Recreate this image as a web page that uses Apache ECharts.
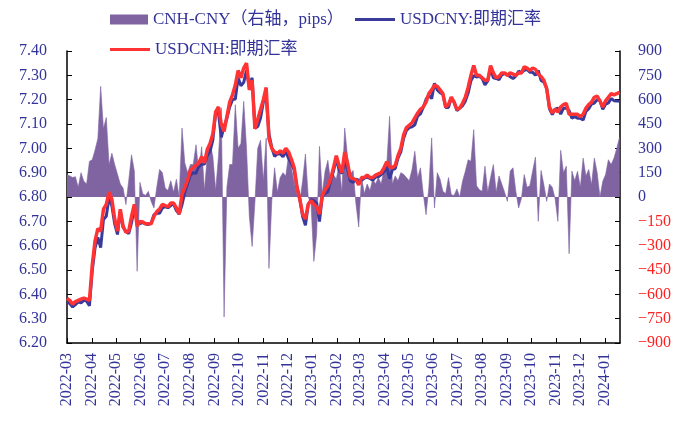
<!DOCTYPE html>
<html>
<head>
<meta charset="utf-8">
<script src="https://cdn.jsdelivr.net/npm/echarts@6/dist/echarts.min.js"></script>
<style>
html,body{margin:0;padding:0;background:#fff;}
#chart{width:691px;height:424px;}
</style>
</head>
<body>
<div id="chart"></div>
<script>
// 数据：每半周一个点，从 2022-03-01 开始
var startDate = '2022-03-01';
var endDate = '2024-01-20';
var stepDays = 3.5;

var nameSpread = 'CNH-CNY（右轴，pips）';
var nameCny = 'USDCNY:即期汇率';
var nameCnh = 'USDCNH:即期汇率';

var usdcnh = [
	6.383,6.375,6.36,6.37,6.375,6.38,6.385,6.38,6.375,6.52,
	6.62,6.67,6.66,6.75,6.77,6.82,6.79,6.71,6.66,6.75,
	6.68,6.655,6.66,6.72,6.77,6.68,6.70,6.697,6.69,6.69,
	6.69,6.72,6.74,6.75,6.77,6.765,6.76,6.775,6.775,6.755,
	6.73,6.81,6.84,6.87,6.91,6.92,6.93,6.94,6.965,6.94,
	6.995,7.02,7.06,7.15,7.17,7.10,7.07,7.13,7.19,7.22,
	7.26,7.32,7.29,7.33,7.35,7.24,7.28,7.08,7.12,7.16,
	7.20,7.25,7.04,7.00,6.985,6.98,6.99,6.98,7.00,6.985,
	6.955,6.92,6.84,6.79,6.73,6.71,6.77,6.785,6.77,6.76,
	6.73,6.805,6.83,6.845,6.875,6.92,6.97,6.93,6.90,6.985,
	6.94,6.88,6.876,6.87,6.85,6.88,6.88,6.89,6.88,6.88,
	6.89,6.895,6.90,6.92,6.945,6.925,6.92,6.93,6.97,7.00,
	7.055,7.085,7.095,7.105,7.125,7.145,7.16,7.17,7.19,7.225,
	7.24,7.26,7.255,7.24,7.225,7.17,7.18,7.21,7.19,7.16,
	7.165,7.185,7.21,7.25,7.30,7.34,7.30,7.30,7.29,7.28,
	7.28,7.34,7.31,7.29,7.295,7.31,7.31,7.30,7.31,7.305,
	7.30,7.31,7.31,7.335,7.33,7.32,7.33,7.325,7.305,7.295,
	7.28,7.245,7.17,7.145,7.16,7.15,7.17,7.18,7.185,7.14,
	7.14,7.14,7.14,7.13,7.14,7.165,7.18,7.19,7.21,7.215,
	7.195,7.17,7.195,7.21,7.225,7.22,7.225,7.23
];

var usdcny = [
	6.369,6.362,6.348,6.358,6.369,6.365,6.375,6.372,6.353,6.497,
	6.591,6.634,6.592,6.708,6.721,6.80,6.763,6.69,6.646,6.742,
	6.675,6.66,6.65,6.694,6.754,6.70,6.691,6.695,6.689,6.687,
	6.693,6.727,6.734,6.733,6.755,6.76,6.756,6.765,6.772,6.744,
	6.73,6.768,6.819,6.855,6.89,6.90,6.898,6.925,6.934,6.936,
	6.97,6.987,7.035,7.146,7.145,7.045,7.09,7.124,7.17,7.20,
	7.203,7.29,7.257,7.271,7.32,7.252,7.29,7.083,7.09,7.125,
	7.19,7.214,7.06,7.003,6.967,6.977,6.978,6.965,6.987,6.959,
	6.937,6.911,6.839,6.793,6.72,6.684,6.77,6.789,6.785,6.775,
	6.699,6.803,6.814,6.822,6.866,6.906,6.959,6.91,6.897,6.943,
	6.915,6.866,6.86,6.874,6.868,6.868,6.878,6.882,6.876,6.869,
	6.882,6.883,6.892,6.903,6.925,6.875,6.912,6.917,6.96,6.985,
	7.041,7.073,7.085,7.088,7.097,7.133,7.142,7.168,7.201,7.219,
	7.204,7.267,7.24,7.229,7.222,7.168,7.168,7.209,7.189,7.155,
	7.165,7.175,7.194,7.227,7.278,7.299,7.293,7.296,7.287,7.261,
	7.277,7.328,7.29,7.287,7.282,7.302,7.307,7.303,7.294,7.287,
	7.297,7.317,7.311,7.321,7.324,7.313,7.313,7.30,7.32,7.279,
	7.272,7.248,7.162,7.139,7.161,7.165,7.141,7.165,7.166,7.155,
	7.124,7.13,7.124,7.124,7.116,7.152,7.163,7.182,7.186,7.20,
	7.195,7.16,7.181,7.187,7.205,7.196,7.195,7.193
];

// CNH-CNY 点差 (pips)
var spread = [
	138,130,120,125,60,150,97,80,220,230,
	290,360,682,420,490,200,270,200,140,80,
	55,-47,100,260,160,-458,90,20,10,35,
	-27,-68,60,170,150,55,40,100,30,110,
	0,425,210,150,200,200,322,150,310,40,
	250,330,250,40,250,550,-740,60,200,200,
	569,300,330,590,300,-120,-305,-30,300,350,
	100,363,-440,-27,180,30,120,150,130,261,
	180,90,14,-27,100,265,0,-41,-397,-230,
	312,20,158,226,90,138,110,200,30,425,
	250,140,164,-41,-185,123,20,80,40,110,
	80,120,80,170,200,497,80,130,100,150,
	140,120,100,170,282,117,180,20,-109,60,
	364,-68,150,110,35,20,120,14,10,50,
	0,97,158,230,220,415,70,45,35,190,
	30,120,200,30,130,80,30,-27,160,180,
	35,-68,-10,138,60,70,160,246,-150,164,
	76,-27,80,60,-10,-150,288,150,190,-350,
	160,100,158,60,240,130,170,76,240,150,
	0,97,138,230,200,240,300,370
];

var leftTicks = {min: 6.2, max: 7.4, interval: 0.1};
var rightTicks = {min: -900, max: 900, interval: 150};

var DAY = 24 * 3600 * 1000;
var t0 = new Date(startDate + 'T00:00:00').getTime();
var dates = [];
for (var i = 0; i < usdcnh.length; i++) {
	dates.push(t0 + i * stepDays * DAY);
}
function pairs(arr) {
	return arr.map(function (v, i) { return [dates[i], v]; });
}

var textColor = '#333399';
var fontSerif = "'Liberation Serif','Noto Sans CJK SC',serif";
var legendText = {fontSize: 17, color: textColor, fontFamily: fontSerif};

var chart = echarts.init(document.getElementById('chart'));
var option = {
	animation: false,
	backgroundColor: '#fff',
	textStyle: {fontFamily: fontSerif},
	legend: [{
		left: 105, top: 6, padding: 5,
		itemWidth: 38, itemHeight: 10,
		textStyle: legendText,
		data: [{name: nameSpread, icon: 'rect'}]
	}, {
		left: 350, top: 6, padding: 5,
		itemWidth: 40, itemHeight: 3,
		textStyle: legendText,
		data: [{name: nameCny, icon: 'rect'}]
	}, {
		left: 105, top: 36, padding: 5,
		itemWidth: 40, itemHeight: 3,
		textStyle: legendText,
		data: [{name: nameCnh, icon: 'rect'}]
	}],
	grid: {left: 67, right: 71, top: 51, bottom: 81, outerBoundsMode: 'none'},
	xAxis: {
		type: 'time',
		min: t0,
		max: new Date(endDate + 'T00:00:00').getTime(),
		minInterval: 28 * DAY,
		maxInterval: 31 * DAY,
		splitLine: {show: false},
		axisLine: {onZero: false, lineStyle: {color: '#000', width: 1.5}},
		axisTick: {inside: true, length: 5, lineStyle: {color: '#000', width: 1}},
		axisLabel: {
			rotate: 90, fontSize: 16, color: textColor, margin: 10,
			fontFamily: fontSerif, hideOverlap: false,
			formatter: function (v) { return echarts.time.format(v, '{yyyy}-{MM}', false); }
		}
	},
	yAxis: [{
		type: 'value',
		min: leftTicks.min, max: leftTicks.max, interval: leftTicks.interval,
		splitLine: {show: false},
		axisLine: {show: true, lineStyle: {color: '#000', width: 1.5}},
		axisTick: {show: true, inside: true, length: 5, lineStyle: {color: '#000'}},
		axisLabel: {
			fontSize: 16, color: textColor, margin: 20, fontFamily: fontSerif,
			formatter: function (v) { return v.toFixed(2); }
		}
	}, {
		type: 'value',
		position: 'right',
		min: rightTicks.min, max: rightTicks.max, interval: rightTicks.interval,
		splitLine: {show: false},
		axisLine: {show: true, lineStyle: {color: '#000', width: 1.5}},
		axisTick: {show: true, inside: true, length: 5, lineStyle: {color: '#000'}},
		axisLabel: {
			fontSize: 16, margin: 18, fontFamily: fontSerif,
			color: function (v) { return Number(v) < 0 ? '#ff2020' : textColor; },
			formatter: function (v) { return String(v).replace('-', '\u2212'); }
		}
	}],
	series: [{
		name: nameSpread,
		type: 'line',
		yAxisIndex: 1,
		data: pairs(spread),
		symbol: 'none',
		color: '#8064A2',
		lineStyle: {width: 0.6, color: '#8064A2'},
		areaStyle: {color: '#8064A2', opacity: 1, origin: 0},
		z: 1
	}, {
		name: nameCny,
		type: 'line',
		data: pairs(usdcny),
		symbol: 'none',
		color: '#3a3a9c',
		lineStyle: {width: 3, color: '#3a3a9c'},
		z: 2
	}, {
		name: nameCnh,
		type: 'line',
		data: pairs(usdcnh),
		symbol: 'none',
		color: '#ff3333',
		lineStyle: {width: 3.5, color: '#ff3333'},
		z: 3
	}]
};
chart.setOption(option);
</script>
</body>
</html>
